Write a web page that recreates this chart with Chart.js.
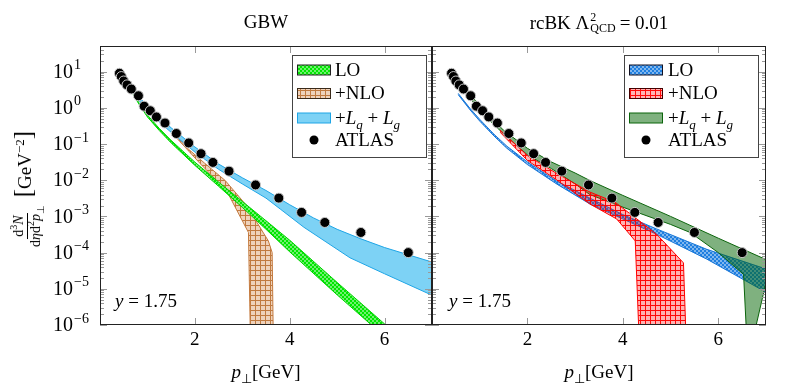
<!DOCTYPE html>
<html>
<head>
<meta charset="utf-8">
<script src="https://cdn.jsdelivr.net/npm/chart.js@4.4.1/dist/chart.umd.min.js"></script>
<style>
body { margin: 0; background: #fff; }
#wrap { position: relative; width: 787px; height: 389px; font-family: "Liberation Serif", serif; font-size: 19px; color: #000; }
canvas { position: absolute; left: 0; top: 0; }
.t { position: absolute; white-space: nowrap; line-height: 20px; }
.c { transform: translateX(-50%); }
i { font-style: italic; }
sub, sup { font-size: 13px; line-height: 0; }
.ss { display: inline-flex; flex-direction: column; font-size: 12px; line-height: 11px; vertical-align: 8px; margin: 0 4px 0 1px; }
.frac { display: inline-flex; flex-direction: column; align-items: center; font-size: 14px; line-height: 15px; vertical-align: middle; margin-right: 3px; }
.frac .num { border-bottom: 1px solid #000; padding: 0 2px 1px; }
.frac sub, .frac sup { font-size: 10px; }
.br { font-size: 25px; }
</style>
</head>
<body>
<div id="wrap">
  <canvas id="left" width="787" height="389"></canvas>
  <canvas id="right" width="787" height="389"></canvas>

  <div class="t c" style="left:266px;top:12px">GBW</div>
  <div class="t c" style="left:599px;top:12px">rcBK Λ<span class="ss"><span>2</span><span>QCD</span></span>= 0.01</div>

  <div class="t" style="left:27px;top:189px;transform:translate(-50%,-50%) rotate(-90deg)">
    <span class="frac"><span class="num">d<sup>3</sup><i>N</i></span><span>d<i>η</i>d<sup>2</sup><i>p</i><sub>⊥</sub></span></span> <span class="br">[</span>GeV<sup>−2</sup><span class="br">]</span>
  </div>

  <div class="t c" style="left:266px;top:362px"><i>p</i><sub>⊥</sub>[GeV]</div>
  <div class="t c" style="left:599px;top:362px"><i>p</i><sub>⊥</sub>[GeV]</div>

  <div class="t" style="left:115px;top:291px"><i>y</i> = 1.75</div>
  <div class="t" style="left:449px;top:291px"><i>y</i> = 1.75</div>

  <div class="t" style="left:335px;top:60px">LO</div>
  <div class="t" style="left:335px;top:83px">+NLO</div>
  <div class="t" style="left:335px;top:108px">+<i>L<sub>q</sub></i> + <i>L<sub>g</sub></i></div>
  <div class="t" style="left:335px;top:130px">ATLAS</div>

  <div class="t" style="left:668px;top:60px">LO</div>
  <div class="t" style="left:668px;top:83px">+NLO</div>
  <div class="t" style="left:668px;top:108px">+<i>L<sub>q</sub></i> + <i>L<sub>g</sub></i></div>
  <div class="t" style="left:668px;top:130px">ATLAS</div>
</div>

<script>
// ATLAS data (same in both panels)
const atlasPt  = [0.41, 0.45, 0.50, 0.57, 0.66, 0.81, 0.93, 1.06, 1.19, 1.37, 1.61, 1.87, 2.13, 2.38, 2.72, 3.28, 3.77, 4.25, 4.74, 5.50, 6.50];
const atlasVal = [9.0, 7.3, 5.5, 4.3, 3.3, 2.15, 1.11, 0.83, 0.56, 0.38, 0.195, 0.107, 0.054, 0.031, 0.0178, 0.0074, 0.0032, 0.00129, 0.00068, 0.00036, 0.0001];

// GBW bands (upper / lower edges)
const gbwLoX    = [0.7, 0.85, 1.0, 1.25, 1.5, 2.0, 2.5, 3.0, 3.5, 4.0, 5.0, 6.0, 6.6];
const gbwLoHi   = [2.5, 1.2, 0.63, 0.27, 0.126, 0.0316, 8.9e-3, 2.6e-3, 7.6e-4, 2.2e-4, 1.5e-5, 1.07e-6, 2.1e-7];
const gbwLoLow  = [2.3, 1.1, 0.56, 0.235, 0.107, 0.0257, 6.8e-3, 1.78e-3, 4.4e-4, 1.05e-4, 6.8e-6, 4.8e-7, 1e-7];
const gbwNloHiX = [1.48, 1.83, 2.2, 2.64, 3.09, 3.55, 3.63, 3.66];
const gbwNloHi  = [0.26, 0.079, 0.030, 9.8e-3, 2.0e-3, 2.1e-4, 1.0e-4, 1e-7];
const gbwNloLoX = [1.48, 2.11, 2.67, 3.13, 3.18];
const gbwNloLo  = [0.23, 0.029, 5.1e-3, 3.6e-4, 1e-7];
const gbwAllHiX = [0.4, 0.7, 1.0, 1.5, 2.0, 2.5, 3.0, 3.5, 4.0, 4.5, 5.0, 5.5, 6.0, 6.5, 7.1];
const gbwAllHi  = [10, 3.3, 1.05, 0.28, 0.083, 0.028, 0.0117, 5.2e-3, 2.1e-3, 9.1e-4, 4.4e-4, 2.4e-4, 1.38e-4, 8.7e-5, 5.0e-5];
const gbwAllLoX = [0.4, 0.7, 1.0, 1.5, 2.0, 2.5, 3.0, 3.5, 3.8, 4.3, 5.27, 6.0, 7.1];
const gbwAllLo  = [8.9, 2.6, 0.79, 0.21, 0.060, 0.020, 7.9e-3, 3.2e-3, 1.6e-3, 5.0e-4, 7.2e-5, 2.6e-5, 5.8e-6];

// rcBK bands
const bkLoX    = [0.55, 0.8, 1.0, 1.3, 1.57, 2.0, 2.61, 3.31, 4.0, 4.71, 5.76, 7.1];
const bkLoHi   = [2.5, 0.95, 0.48, 0.186, 0.087, 0.032, 9.5e-3, 3.2e-3, 1.12e-3, 4.5e-4, 1.23e-4, 3.2e-5];
const bkLoLow  = [2.3, 0.87, 0.43, 0.166, 0.076, 0.027, 7.9e-3, 2.2e-3, 8.5e-4, 3.2e-4, 6.6e-5, 6.8e-6];
const bkNloHiX = [1.43, 2.0, 2.6, 3.31, 3.84, 4.71, 5.27, 5.34];
const bkNloHi  = [0.24, 0.048, 0.0158, 4.7e-3, 2.45e-3, 3.2e-4, 5.2e-5, 1e-7];
const bkNloLoX = [1.43, 2.0, 2.6, 3.31, 3.87, 4.26, 4.36];
const bkNloLo  = [0.21, 0.035, 0.0105, 2.2e-3, 8.5e-4, 2.1e-4, 1e-7];
const bkAllHiX = [0.4, 0.7, 1.0, 1.5, 2.0, 2.5, 3.0, 3.31, 4.0, 5.0, 6.0, 7.1];
const bkAllHi  = [10, 3.55, 1.12, 0.24, 0.076, 0.032, 0.0158, 9.8e-3, 3.8e-3, 1.0e-3, 2.5e-4, 5.6e-5];
const bkAllLoX = [0.4, 0.7, 1.0, 1.5, 2.0, 2.5, 3.0, 3.31, 4.0, 5.0, 5.41, 6.0, 6.53, 6.62];
const bkAllLo  = [8.7, 2.8, 0.83, 0.19, 0.050, 0.021, 7.9e-3, 4.0e-3, 1.8e-3, 6.0e-4, 3.6e-4, 1.0e-4, 2.5e-5, 1e-7];

const xTicks = [2, 4, 6];
const yDecades = [-6, -5, -4, -3, -2, -1, 0, 1];

// upper edge left->right, then lower edge back
function band(xu, yu, xl, yl) {
  const pts = xu.map((x, i) => ({x: x, y: yu[i]}));
  for (let i = xl.length - 1; i >= 0; i--) pts.push({x: xl[i], y: yl[i]});
  return pts;
}

function dotPattern(bg, dot) {
  const c = document.createElement('canvas');
  c.width = c.height = 4;
  const g = c.getContext('2d');
  g.fillStyle = bg;
  g.fillRect(0, 0, 4, 4);
  g.fillStyle = dot;
  g.beginPath(); g.arc(1, 1, 0.8, 0, Math.PI * 2); g.fill();
  g.beginPath(); g.arc(3, 3, 0.8, 0, Math.PI * 2); g.fill();
  return g.createPattern(c, 'repeat');
}

function gridPattern(bg, line) {
  const c = document.createElement('canvas');
  c.width = c.height = 5;
  const g = c.getContext('2d');
  g.fillStyle = bg;
  g.fillRect(0, 0, 5, 5);
  g.fillStyle = line;
  g.fillRect(0, 0, 5, 1);
  g.fillRect(0, 1, 1, 4);
  return g.createPattern(c, 'repeat');
}

const serif = '"Liberation Serif", serif';

const axisDeco = {
  id: 'axisDeco',
  afterDraw(chart, args, o) {
    const {ctx, chartArea: a} = chart;
    const x = chart.scales.x, y = chart.scales.y;
    ctx.save();
    ctx.strokeStyle = '#999';
    ctx.lineWidth = 1;
    ctx.beginPath();
    yDecades.forEach(d => {
      for (let k = 1; k <= 9; k++) {
        const v = k * Math.pow(10, d);
        if (v > y.max) break;
        const py = Math.round(y.getPixelForValue(v)) + 0.5;
        const len = k === 1 ? 7 : 4;
        ctx.moveTo(a.left, py); ctx.lineTo(a.left + len, py);
        ctx.moveTo(a.right, py); ctx.lineTo(a.right - len, py);
      }
    });
    xTicks.forEach(v => {
      const px = Math.round(x.getPixelForValue(v)) + 0.5;
      ctx.moveTo(px, a.bottom); ctx.lineTo(px, a.bottom - 7);
      ctx.moveTo(px, a.top); ctx.lineTo(px, a.top + 7);
    });
    ctx.stroke();

    ctx.strokeStyle = '#222';
    ctx.strokeRect(a.left + 0.5, a.top + 0.5, a.right - a.left - 1, a.bottom - a.top - 1);

    if (o.yLabels) {
      ctx.fillStyle = '#000';
      ctx.textBaseline = 'middle';
      ctx.textAlign = 'left';
      yDecades.forEach(d => {
        const py = y.getPixelForValue(Math.pow(10, d));
        ctx.font = '20px ' + serif;
        ctx.fillText('10', 53, py + 1);
        const w = ctx.measureText('10').width;
        ctx.font = '14px ' + serif;
        ctx.fillText(d < 0 ? '\u2212' + (-d) : String(d), 53 + w + 1, py - 6);
      });
    }

    const L = o.legend;
    if (L) {
      ctx.fillStyle = '#fff';
      ctx.fillRect(L.x, L.y, L.w, L.h);
      ctx.strokeStyle = '#444';
      ctx.strokeRect(L.x + 0.5, L.y + 0.5, L.w, L.h);
      L.rows.forEach((ry, i) => {
        const ds = chart.data.datasets[L.order[i]];
        const sx = L.x + 5.5;
        if (ds.showLine) {
          ctx.fillStyle = ds.backgroundColor;
          ctx.fillRect(sx, ry - 5, 33, 10);
          ctx.strokeStyle = ds.legendStroke || ds.borderColor;
          ctx.strokeRect(sx, ry - 5, 33, 10);
        } else {
          ctx.fillStyle = '#000';
          ctx.beginPath();
          ctx.arc(sx + 16.5, ry, 4.5, 0, Math.PI * 2);
          ctx.fill();
        }
      });
    }
    ctx.restore();
  }
};

function bandSet(label, data, bg, border, order, legendStroke) {
  return {
    label: label, data: data, showLine: true, fill: 'shape', tension: 0,
    backgroundColor: bg, borderColor: border, borderWidth: 1,
    pointRadius: 0, order: order, clip: 0, legendStroke: legendStroke
  };
}

function atlasSet() {
  return {
    label: 'ATLAS',
    data: atlasPt.map((x, i) => ({x: x, y: atlasVal[i]})),
    showLine: false, pointRadius: 5, pointBackgroundColor: '#000',
    pointBorderColor: '#c8c8c8', pointBorderWidth: 1, order: 0
  };
}

function options(padLeft, padRight, yLabels, legend) {
  return {
    responsive: false,
    animation: false,
    layout: {padding: {left: padLeft, right: padRight, top: 46, bottom: 34}},
    plugins: {
      legend: {display: false},
      tooltip: {enabled: false},
      axisDeco: {yLabels: yLabels, legend: legend}
    },
    scales: {
      x: {
        type: 'linear', min: 0, max: 7,
        afterFit: s => { s.height = 30; },
        grid: {display: false},
        border: {display: false},
        ticks: {
          stepSize: 1, autoSkip: false, maxRotation: 0, padding: -4, color: '#000',
          font: {family: serif, size: 19},
          callback: v => xTicks.includes(v) ? String(v) : ''
        }
      },
      y: {type: 'logarithmic', min: 1e-6, max: 51, display: false}
    }
  };
}

const legendRows = [70, 93.5, 118, 140];

new Chart(document.getElementById('left'), {
  type: 'scatter',
  data: {
    datasets: [
      bandSet('LO', band(gbwLoX, gbwLoHi, gbwLoX, gbwLoLow), dotPattern('#00e600', '#ffffff'), '#00d000', 2, '#222'),
      bandSet('+NLO', band(gbwNloHiX, gbwNloHi, gbwNloLoX, gbwNloLo), gridPattern('rgba(205,125,60,0.35)', '#c07a40'), '#c47a3e', 3, '#3a2a1a'),
      bandSet('+Lq+Lg', band(gbwAllHiX, gbwAllHi, gbwAllLoX, gbwAllLo), 'rgb(125,210,245)', 'rgb(30,165,230)', 1),
      atlasSet()
    ]
  },
  options: options(100, 355, true, {x: 292, y: 55, w: 134, h: 102, rows: legendRows, order: [0, 1, 2, 3]}),
  plugins: [axisDeco]
});

new Chart(document.getElementById('right'), {
  type: 'scatter',
  data: {
    datasets: [
      bandSet('LO', band(bkLoX, bkLoHi, bkLoX, bkLoLow), dotPattern('#1f7fe0', '#ffffff'), '#1a78d8', 3, '#112'),
      bandSet('+NLO', band(bkNloHiX, bkNloHi, bkNloLoX, bkNloLo), gridPattern('rgba(255,0,0,0.3)', 'rgba(255,0,0,0.95)'), '#ff0000', 1, '#400'),
      bandSet('+Lq+Lg', band(bkAllHiX, bkAllHi, bkAllLoX, bkAllLo), 'rgba(0,100,0,0.5)', '#0b640b', 2),
      atlasSet()
    ]
  },
  options: options(432, 21, false, {x: 624, y: 55, w: 134, h: 102, rows: legendRows, order: [0, 1, 2, 3]}),
  plugins: [axisDeco]
});
</script>
</body>
</html>
